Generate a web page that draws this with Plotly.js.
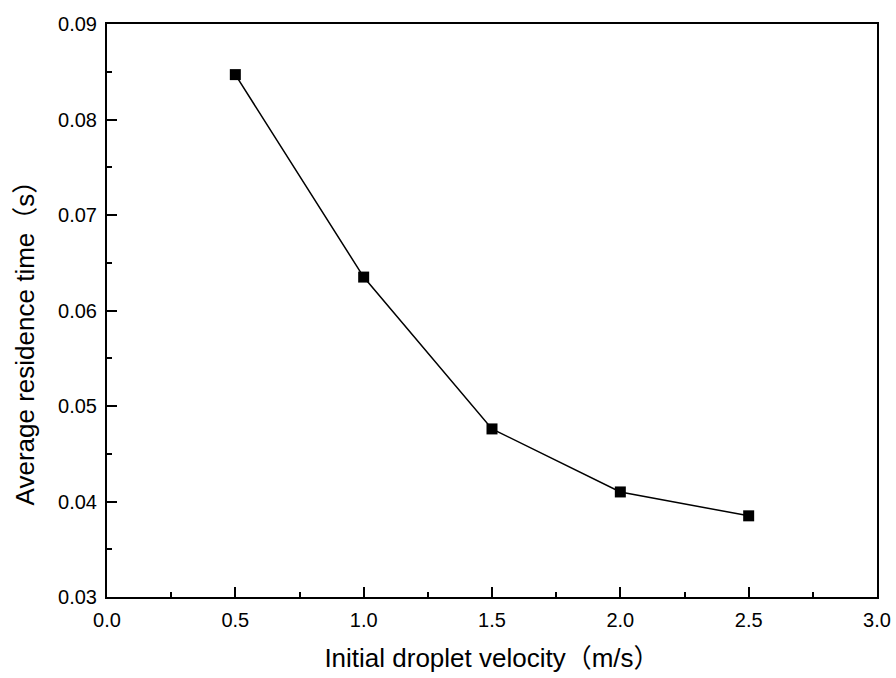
<!DOCTYPE html>
<html>
<head>
<meta charset="utf-8">
<script src="https://cdn.plot.ly/plotly-3.0.1.min.js"></script>
<style>html,body{margin:0;padding:0;background:#fff;}#chart{width:896px;height:678px;}</style>
</head>
<body>
<div id="chart"></div>
<script>
const velocity = [0.5, 1.0, 1.5, 2.0, 2.5];
const residenceTime = [0.0847, 0.0635, 0.0476, 0.0410, 0.0385];
const xTickVals = [0.0, 0.5, 1.0, 1.5, 2.0, 2.5, 3.0];
const xTickText = ['0.0', '0.5', '1.0', '1.5', '2.0', '2.5', '3.0'];
const yTickVals = [0.03, 0.04, 0.05, 0.06, 0.07, 0.08, 0.09];
const yTickText = ['0.03', '0.04', '0.05', '0.06', '0.07', '0.08', '0.09'];
const xTitle = 'Initial droplet velocity（m/s）';
const yTitle = 'Average residence time（s）';

const trace = {
  x: velocity, y: residenceTime, type: 'scatter', mode: 'lines+markers',
  line: {color: '#000', width: 1.5},
  marker: {symbol: 'square', size: 11, color: '#000'},
  showlegend: false
};
const fam = 'Liberation Sans, Arial, Noto Sans CJK SC, sans-serif';
const layout = {
  width: 896, height: 678,
  margin: {l: 107, r: 19, t: 24, b: 81},
  paper_bgcolor: '#fff', plot_bgcolor: '#fff',
  font: {family: fam, color: '#000'},
  xaxis: {
    range: [0, 3], tickvals: xTickVals, ticktext: xTickText,
    showgrid: false, zeroline: false,
    showline: true, mirror: true, linecolor: '#000', linewidth: 2,
    ticks: 'inside', ticklen: 10, tickwidth: 2, tickcolor: '#000',
    minor: {ticks: 'inside', ticklen: 5, tickwidth: 2, tickcolor: '#000', dtick: 0.25, tick0: 0, showgrid: false},
    tickfont: {size: 20, family: fam, color: '#000'},
    ticklabelstandoff: 4,
    title: {text: xTitle, font: {size: 26, family: fam, color: '#000'}, standoff: 19}
  },
  yaxis: {
    range: [0.03, 0.09], tickvals: yTickVals, ticktext: yTickText,
    showgrid: false, zeroline: false,
    showline: true, mirror: true, linecolor: '#000', linewidth: 2,
    ticks: 'inside', ticklen: 10, tickwidth: 2, tickcolor: '#000',
    minor: {ticks: 'inside', ticklen: 5, tickwidth: 2, tickcolor: '#000', dtick: 0.005, tick0: 0.03, showgrid: false},
    tickfont: {size: 20, family: fam, color: '#000'},
    ticklabelstandoff: 4
  },
  annotations: [{
    text: yTitle, textangle: -90, showarrow: false,
    xref: 'paper', yref: 'paper', x: -0.106, y: 0.4555,
    xanchor: 'center', yanchor: 'middle',
    font: {size: 26, family: fam, color: '#000'}
  }]
};
Plotly.newPlot('chart', [trace], layout, {displayModeBar: false, staticPlot: true});
</script>
</body>
</html>
